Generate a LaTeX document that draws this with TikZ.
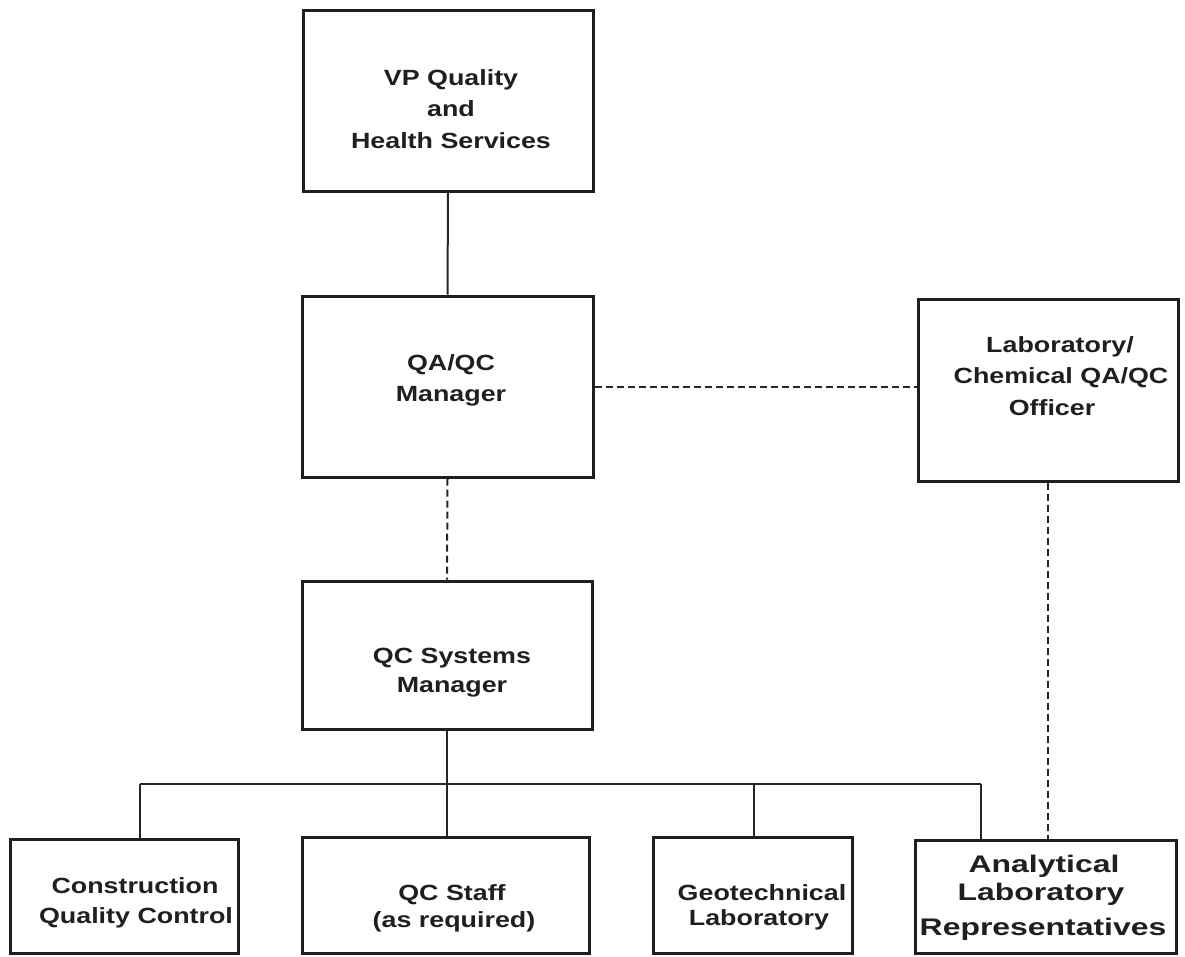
\documentclass[tikz,border=0pt]{standalone}
\usepackage{fontspec}
\newfontfamily\cf[FakeStretch=1.22]{Liberation Sans}
\newfontfamily\cfw[FakeStretch=1.33]{Liberation Sans}
\begin{document}
\begin{tikzpicture}[x=1pt,y=-1pt,
  box/.style={draw=black!88, line width=3pt, rectangle, inner sep=0pt},
  solidline/.style={draw=black!85, line width=2pt},
  dashline/.style={draw=black!85, line width=2pt, dash pattern=on 7pt off 4pt},
  lbl/.style={anchor=base, inner sep=0pt, font=\cf\bfseries\fontsize{22}{26}\selectfont, text=black!88},
  lblbig/.style={lbl, font=\cfw\bfseries\fontsize{24}{28}\selectfont}]
\useasboundingbox (0,0) rectangle (1185,956);
% text
\node[lbl] (vpa) at (451,85) {VP Quality};
\node[lbl] (vpb) at (451,116) {and};
\node[lbl] (vpc) at (451,148) {Health Services};
\node[lbl] (qaa) at (451,370) {QA/QC};
\node[lbl] (qab) at (451,401) {Manager};
\node[lbl] (laba) at (1060,352) {Laboratory/};
\node[lbl] (labb) at (1061,383) {Chemical QA/QC};
\node[lbl] (labc) at (1052,415) {Officer};
\node[lbl] (qcsa) at (452,663) {QC Systems};
\node[lbl] (qcsb) at (452,692) {Manager};
\node[lbl] (cona) at (135,893) {Construction};
\node[lbl] (conb) at (136,923) {Quality Control};
\node[lbl] (stfa) at (452,900) {QC Staff};
\node[lbl] (stfb) at (454,927) {(as required)};
\node[lbl] (geoa) at (762,900) {Geotechnical};
\node[lbl] (geob) at (759,925) {Laboratory};
\node[lblbig] (anaa) at (1044,872) {Analytical};
\node[lblbig] (anab) at (1041,900) {Laboratory};
\node[lblbig] (anac) at (1043,935) {Representatives};
% boxes
\node[box, minimum width=290, minimum height=181] (vp) at (448,100.5) {};
\node[box, minimum width=291, minimum height=181] (qa) at (447.5,386.5) {};
\node[box, minimum width=260, minimum height=182] (lab) at (1048,390) {};
\node[box, minimum width=290, minimum height=148] (qcs) at (447,655) {};
\node[box, minimum width=228, minimum height=114] (con) at (124,896) {};
\node[box, minimum width=287, minimum height=116] (stf) at (445.5,895) {};
\node[box, minimum width=199, minimum height=116] (geo) at (752.5,895) {};
\node[box, minimum width=261, minimum height=113] (ana) at (1045.5,896.5) {};
% bus coordinates
\coordinate (busc) at (447,784);
\coordinate (busl) at (140,784);
\coordinate (busr) at (981,784);
\coordinate (busg) at (754,784);
% connectors
\draw[solidline] (vp.south) -- (qa.north);
\draw[dashline] (qa.south) -- (qcs.north);
\draw[dashline] (qa.east) -- (qa.east -| lab.west);
\draw[dashline] (lab.south) -- (lab.south |- ana.north);
\draw[solidline] (qcs.south) -- (busc);
\draw[solidline] (busl) -- (busr);
\draw[solidline] (busl) -- (busl |- con.north);
\draw[solidline] (busc) -- (busc |- stf.north);
\draw[solidline] (busg) -- (busg |- geo.north);
\draw[solidline] (busr) -- (busr |- ana.north);
\end{tikzpicture}
\end{document}
